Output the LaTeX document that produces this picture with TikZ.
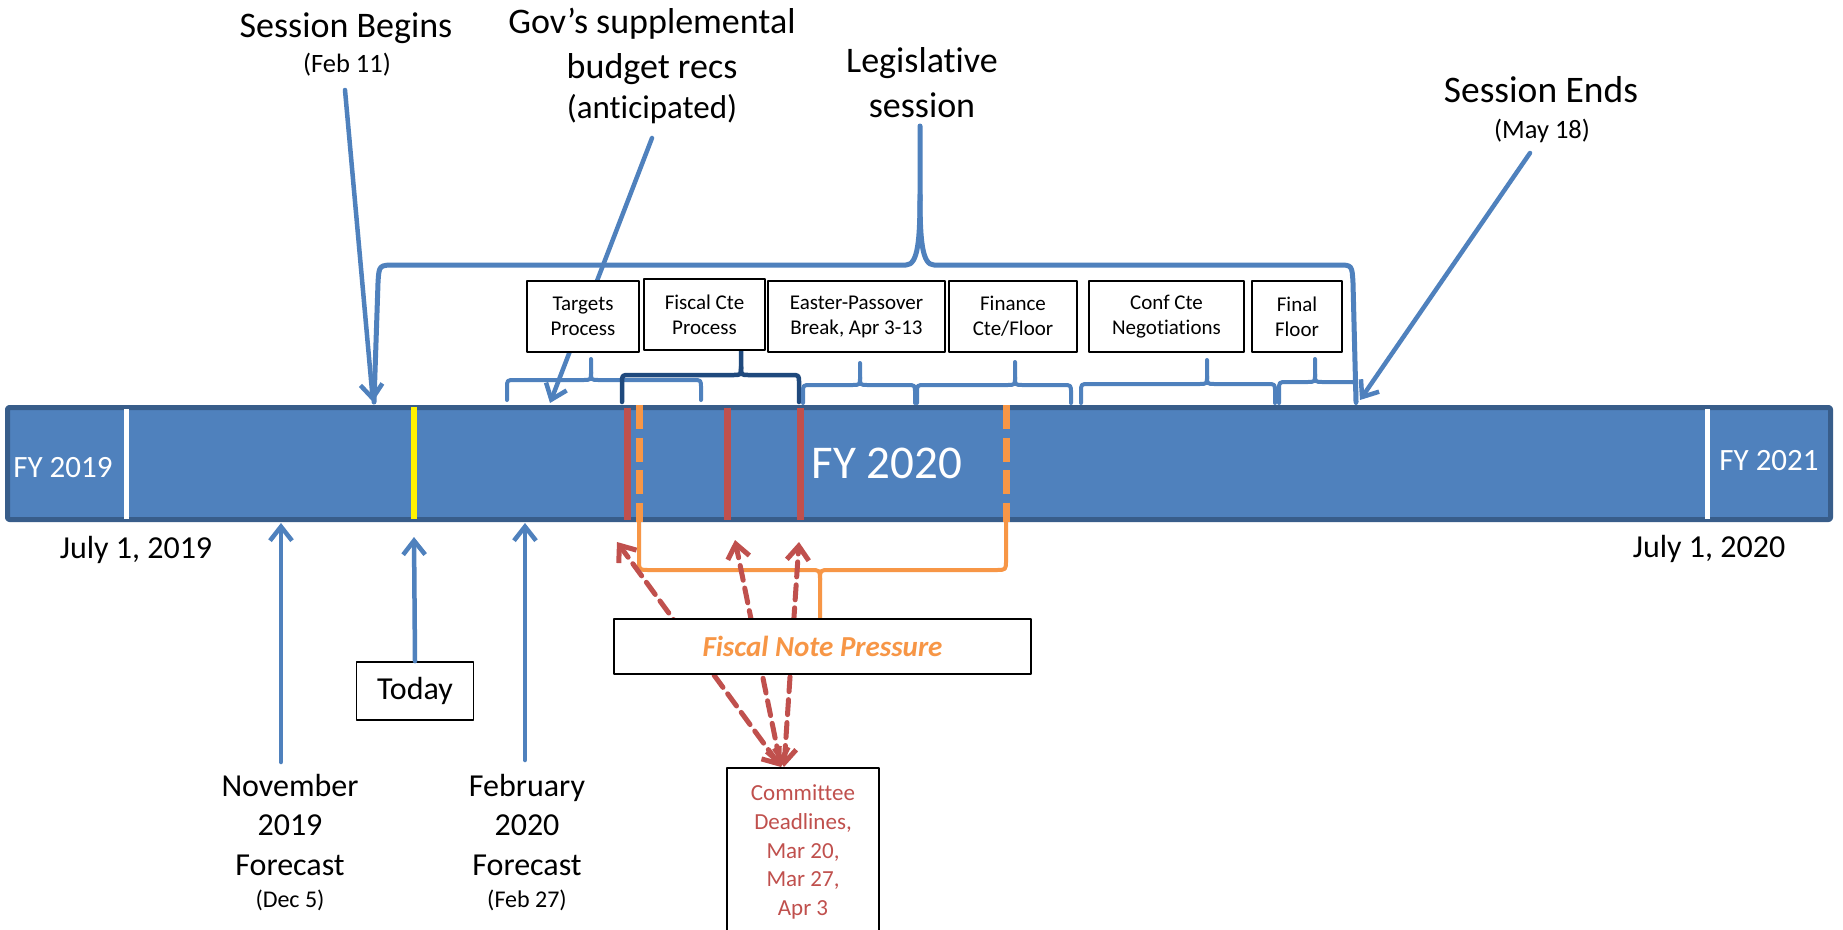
\documentclass[tikz,border=0pt]{standalone}
\usepackage{fontspec}
\setmainfont{Carlito}[Ligatures=NoCommon]
\usetikzlibrary{arrows.meta}

\definecolor{barblue}{HTML}{4F81BD}
\definecolor{baredge}{HTML}{385D8A}
\definecolor{navy}{HTML}{1F497D}
\definecolor{deadred}{HTML}{C0504D}
\definecolor{fnorange}{HTML}{F79646}

% brace: style, x left, x tip, x right, y ends, y bar, y tip, corner (signed)
\newcommand{\brc}[8][]{%
  \draw[#1] (#2,#5) -- ({#2},{#6+(#8)}) .. controls (#2,#6) .. ({#2+abs(#8)},#6) -- ({#3-abs(#8)},#6)
    .. controls (#3,#6) .. ({#3},{#6-(#8)}) -- (#3,#7);
  \draw[#1] ({#3},{#6-(#8)}) .. controls (#3,#6) .. ({#3+abs(#8)},#6) -- ({#4-abs(#8)},#6)
    .. controls (#4,#6) .. ({#4},{#6+(#8)}) -- (#4,#5);
}

\tikzset{
  txt/.style={anchor=base, inner sep=0pt, align=center},
  bigtxt/.style={txt, font=\fontsize{36}{44.5}\selectfont},
  midtxt/.style={txt, font=\fontsize{32}{39.5}\selectfont},
  subtxt/.style={txt, font=\fontsize{26.5}{31}\selectfont},
  yrtxt/.style={txt, text=white, font=\fontsize{31}{37}\selectfont},
  stagebox/.style={draw=black, line width=1.8pt, fill=white, align=center, inner sep=0pt,
    font=\fontsize{21}{25}\selectfont},
  lbrace/.style={barblue, line width=4pt},
  dbrace/.style={navy, line width=4.5pt},
  obrace/.style={fnorange, line width=4pt},
  blarrow/.style={barblue, line width=4.5pt, -{Straight Barb[length=14pt,width=22pt]}},
  rdarrow/.style={deadred, line width=5pt, dash pattern=on 15pt off 8pt,
    {Straight Barb[length=14pt,width=22pt]}-{Straight Barb[length=14pt,width=22pt]}}
}

\begin{document}
\begin{tikzpicture}[x=1pt, y=-1pt, line cap=round, line join=round]
    \useasboundingbox[fill=white] (0,0) rectangle (1843,929);

    % timeline bar
    \draw[baredge, fill=barblue, line width=5pt, rounded corners=2pt] (7.5,407.5) rectangle (1830.5,519.5);
    \draw[white, line width=5pt, line cap=butt] (126,409) -- (126,519);
    \draw[white, line width=5pt, line cap=butt] (1707,409) -- (1707,519);
    \draw[yellow, line width=6pt, line cap=butt] (414,407) -- (414,519);
    \foreach \x in {627,727,800}
        \draw[deadred, line width=7pt, line cap=butt] (\x,408) -- (\x,520);
    \foreach \x in {639,1006}
        \draw[fnorange, line width=7pt, line cap=butt, dash pattern=on 24pt off 8.5pt] (\x,405) -- (\x,522);

    \node[yrtxt] (fy19) at (63,477) {FY 2019};
    \node[txt, text=white, font=\fontsize{47}{56}\selectfont] (fy20) at (887,478) {FY 2020};
    \node[yrtxt] (fy21) at (1769,470) {FY 2021};
    \node[midtxt] (jul19) at (136,558) {July 1, 2019};
    \node[midtxt] (jul20) at (1709,557) {July 1, 2020};

    % braces over the bar
    \draw[barblue, line width=5pt] (374,402) -- (378,283) .. controls (379,265) .. (396,265) -- (906,265)
        .. controls (918,265) and (920,240) .. (920,195) -- (920,126);
    \draw[barblue, line width=5pt] (920,195) .. controls (920,240) and (922,265) .. (934,265) -- (1338,265)
        .. controls (1352,265) .. (1353,283) -- (1356,402);
    \brc[lbrace]{507}{591}{701}{400}{380}{359}{8}
    \brc[dbrace]{622}{741}{799}{402}{375}{349}{8}
    \brc[lbrace]{803}{860}{915}{403}{385}{363}{8}
    \brc[lbrace]{917}{1015}{1071}{403}{385}{362}{8}
    \brc[lbrace]{1081}{1207}{1275}{403}{384}{360}{8}
    \brc[lbrace]{1279}{1315}{1356}{403}{382}{359}{8}
    \brc[obrace]{639}{820}{1006}{520}{570}{618}{-10}

    % labels above
    \node[bigtxt] (sbegin) at (346,37) {Session Begins};
    \node[subtxt] (sbdate) at (347,72) {(Feb 11)};
    \node[bigtxt] (gov) at (652,78) {Gov’s supplemental\\budget recs};
    \node[txt, font=\fontsize{33}{38}\selectfont] (govnote) at (652,118) {(anticipated)};
    \node[bigtxt] (legis) at (922,117) {Legislative\\session};
    \node[bigtxt, font=\fontsize{37.5}{44}\selectfont] (send) at (1541,102) {Session Ends};
    \node[subtxt] (sedate) at (1542,138) {(May 18)};

    \coordinate (sbFrom) at (345,90);
    \coordinate (sbTo) at (373,402);
    \coordinate (govFrom) at (652,138);
    \coordinate (govTo) at (550,403);
    \coordinate (seFrom) at (1530,153);
    \coordinate (seTo) at (1360,400);
    \draw[blarrow] (sbFrom) -- (sbTo);
    \draw[blarrow] (govFrom) -- (govTo);
    \draw[blarrow] (seFrom) -- (seTo);

    % labels below
    \node[midtxt] (nov) at (290,875) {November\\2019\\Forecast};
    \node[txt, font=\fontsize{24}{28}\selectfont] (novdate) at (290,907) {(Dec 5)};
    \node[midtxt] (feb) at (527,875) {February\\2020\\Forecast};
    \node[txt, font=\fontsize{24}{28}\selectfont] (febdate) at (527,907) {(Feb 27)};
    \node[stagebox, font=\fontsize{32}{38}\selectfont, minimum width=117pt, minimum height=58pt] (today) at (415,691) {Today};

    \coordinate (novFrom) at (281,762);
    \coordinate (novTo) at (281,523);
    \coordinate (todayTo) at (414,537);
    \coordinate (febFrom) at (525,760);
    \coordinate (febTo) at (525,523);
    \draw[blarrow] (novFrom) -- (novTo);
    \draw[blarrow] (today.north) -- (todayTo);
    \draw[blarrow] (febFrom) -- (febTo);

    % deadlines
    \coordinate (cdlIn) at (781,767);
    \coordinate (dl1) at (617,542);
    \coordinate (dl2) at (735,540);
    \coordinate (dl3) at (799,542);
    \draw[rdarrow] (cdlIn) -- (dl1);
    \draw[rdarrow] (cdlIn) -- (dl2);
    \draw[rdarrow] ([xshift=3pt]cdlIn) -- (dl3);

    % stage boxes
    \node[stagebox, minimum width=112pt, minimum height=71pt] (targets) at (583,316.5) {Targets\\Process};
    \node[stagebox, minimum width=121pt, minimum height=71pt] (fiscal) at (704.5,314.5) {Fiscal Cte\\Process};
    \node[stagebox, minimum width=177pt, minimum height=71pt] (easter) at (856.5,316.5) {Easter-Passover\\Break, Apr 3-13};
    \node[stagebox, minimum width=128pt, minimum height=71pt] (finance) at (1013,316.5) {Finance\\Cte/Floor};
    \node[stagebox, minimum width=155pt, minimum height=71pt] (conf) at (1166.5,316.5) {Conf Cte\\Negotiations};
    \node[stagebox, minimum width=90pt, minimum height=71pt] (final) at (1297,316.5) {Final\\Floor};

    \node[stagebox, text=fnorange, font=\fontsize{29}{34}\selectfont\bfseries\itshape,
        minimum width=417pt, minimum height=55pt] (fnp) at (822.5,646.5) {Fiscal Note Pressure};
    \node[stagebox, text=deadred, font=\fontsize{23}{28.7}\selectfont, minimum width=152pt,
        inner ysep=17pt, anchor=north] (cdl) at (803,767) {Committee\\Deadlines,\\Mar 20,\\Mar 27,\\Apr 3};
\end{tikzpicture}
\end{document}
